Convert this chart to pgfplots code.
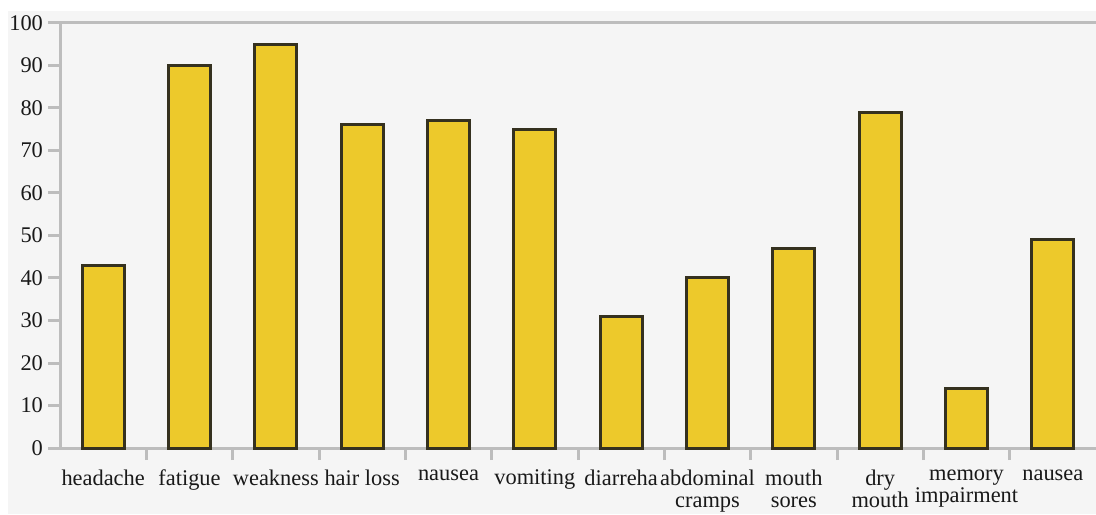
\documentclass[border=0pt]{standalone}
\usepackage{pgfplots}
\pgfplotsset{compat=1.18}
\usepackage{fontspec}
\setmainfont{Liberation Serif}

\definecolor{barfill}{HTML}{EDC92B}
\definecolor{barline}{HTML}{35311F}
\definecolor{axisgray}{HTML}{BDBDBD}
\definecolor{bggray}{HTML}{F5F5F5}

\begin{document}
\begin{tikzpicture}[x=1pt,y=1pt]
\useasboundingbox (0,0) rectangle (548,257);
\fill[bggray] (4,0) rectangle (548,251.5);
\begin{axis}[
    at={(30pt,33pt)}, anchor=south west,
    scale only axis,
    width=518pt, height=212.5pt,
    xmin=-0.5, xmax=11.5,
    ymin=0, ymax=100,
    axis x line*=bottom,
    axis y line*=left,
    axis line style={axisgray, line width=1.5pt},
    every axis x line/.append style={-},
    every axis y line/.append style={-},
    ytick={0,10,...,100},
    xtick={0,...,11},
    xticklabels={headache, fatigue, weakness, hair loss, nausea, vomiting, diarreha, {abdominal\\cramps}, {mouth\\sores}, {dry\\mouth}, {memory\\impairment}, nausea},
    minor xtick={0.5,1.5,...,10.5},
    tick align=outside,
    major tick length=6pt,
    minor tick length=6pt,
    every major tick/.append style={axisgray, line width=1.5pt},
    every minor tick/.append style={axisgray, line width=1.5pt},
    x tick style={draw=none},
    minor x tick style={draw=axisgray},
    tick label style={font=\fontsize{11.2}{11}\selectfont, text=black!90},
    xticklabel style={align=center, yshift=-1.5pt},
    yticklabel style={xshift=1pt},
    /pgf/number format/assume math mode=true,
    extra y ticks={100},
    extra y tick labels={},
    extra y tick style={grid=major, major grid style={axisgray, line width=1.5pt}},
    ybar, bar width=21pt,
    clip=false,
]
\addplot[fill=barfill, draw=barline, line width=1.5pt] coordinates {
    (0,43) (1,90) (2,95) (3,76) (4,77) (5,75)
    (6,31) (7,40) (8,47) (9,79) (10,14) (11,49)
};
\end{axis}
\end{tikzpicture}
\end{document}
